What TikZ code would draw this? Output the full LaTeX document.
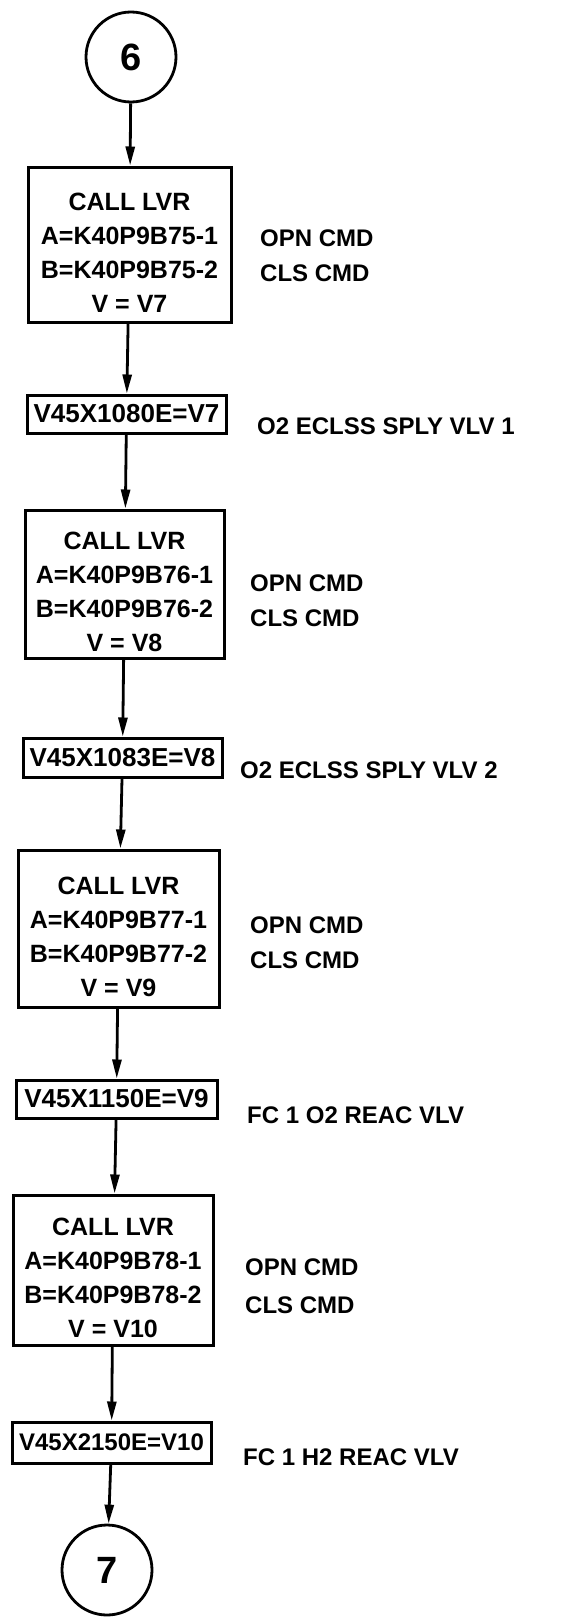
\documentclass[tikz,border=0pt]{standalone}
\usepackage{fontspec}
\setmainfont{Liberation Sans}
\usetikzlibrary{arrows.meta}
\newcommand\cbtext[1]{\raisebox{-10pt}[\height][\depth]{\begin{tabular}{@{}c@{}}#1\end{tabular}}}
\begin{document}
\begin{tikzpicture}[x=1pt,y=-1pt,
  every node/.style={font=\bfseries},
  conn/.style={circle,draw,line width=2.8pt,minimum size=90pt,inner sep=0pt,font=\bfseries\fontsize{38}{40}\selectfont},
  callbox/.style={draw,line width=3pt,inner sep=0pt,font=\bfseries\fontsize{25}{34}\selectfont},
  setbox/.style={draw,line width=3pt,inner sep=0pt,font=\bfseries\fontsize{26}{30}\selectfont},
  note/.style={anchor=west,inner sep=0pt,font=\bfseries\fontsize{24}{34}\selectfont},
  flow/.style={line width=2.8pt,-{Triangle[length=19pt,width=9pt]}}]
\useasboundingbox (0,0) rectangle (588,1619);
\node[conn] (c6) at (131,57) {6};
\node[callbox,minimum width=203pt,minimum height=155pt] (b1) at (129.5,244.5)
  {\cbtext{CALL LVR\\A=K40P9B75-1\\B=K40P9B75-2\\V = V7}};
\node[setbox,minimum width=199pt,minimum height=38pt] (b2) at (126.5,414) {V45X1080E=V7};
\node[callbox,minimum width=199pt,minimum height=148pt] (b3) at (124.5,584)
  {\cbtext{CALL LVR\\A=K40P9B76-1\\B=K40P9B76-2\\V = V8}};
\node[setbox,minimum width=199pt,minimum height=39pt] (b4) at (122.5,757.5) {V45X1083E=V8};
\node[callbox,minimum width=201pt,minimum height=157pt] (b5) at (118.5,928.5)
  {\cbtext{CALL LVR\\A=K40P9B77-1\\B=K40P9B77-2\\V = V9}};
\node[setbox,minimum width=201pt,minimum height=38pt] (b6) at (116.5,1099) {V45X1150E=V9};
\node[callbox,minimum width=200pt,minimum height=150pt] (b7) at (113,1270)
  {\cbtext{CALL LVR\\A=K40P9B78-1\\B=K40P9B78-2\\V = V10}};
\node[setbox,minimum width=199pt,minimum height=41pt,font=\bfseries\fontsize{24}{30}\selectfont] (b8) at (111.5,1442.5) {V45X2150E=V10};
\node[conn] (c7) at (107,1570) {7};

\node[note] (o1) at (260,238) {OPN CMD};
\node[note] (k1) at (260,273) {CLS CMD};
\node[note] (l2) at (257,426) {O2 ECLSS SPLY VLV 1};
\node[note] (o3) at (250,583) {OPN CMD};
\node[note] (k3) at (250,618) {CLS CMD};
\node[note] (l4) at (240,770) {O2 ECLSS SPLY VLV 2};
\node[note] (o5) at (250,925) {OPN CMD};
\node[note] (k5) at (250,960) {CLS CMD};
\node[note] (l6) at (247,1115) {FC 1 O2 REAC VLV};
\node[note] (o7) at (245,1267) {OPN CMD};
\node[note] (k7) at (245,1305) {CLS CMD};
\node[note] (l8) at (243,1457) {FC 1 H2 REAC VLV};

\draw[flow] (c6) -- (b1);
\draw[flow] (b1) -- (b2);
\draw[flow] (b2) -- (b3);
\draw[flow] (b3) -- (b4);
\draw[flow] (b4) -- (b5);
\draw[flow] (b5) -- (b6);
\draw[flow] (b6) -- (b7);
\draw[flow] (b7) -- (b8);
\draw[flow] (b8) -- (c7);
\end{tikzpicture}
\end{document}
